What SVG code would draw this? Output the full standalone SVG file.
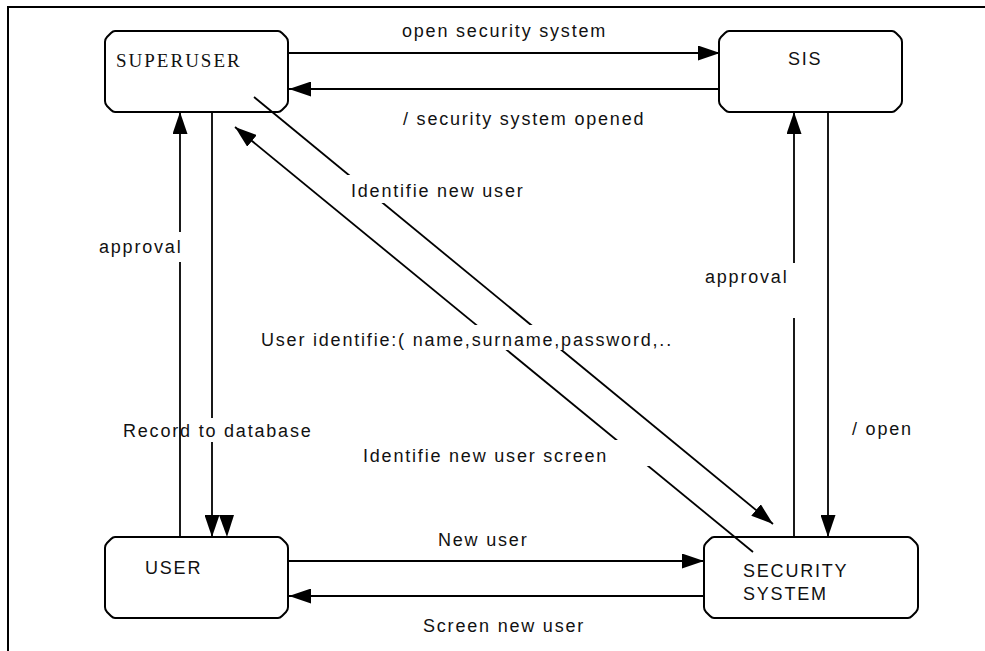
<svg xmlns="http://www.w3.org/2000/svg" width="985" height="651" viewBox="0 0 985 651">
<defs>
<marker id="ah" markerUnits="userSpaceOnUse" markerWidth="22" markerHeight="15" refX="22" refY="7.5" orient="auto">
<path d="M0,0 L22,7.5 L0,15 Z" fill="#000"/>
</marker>
</defs>
<style>
.box{fill:#fff;stroke:#000;stroke-width:2}
.ln{fill:none;stroke:#000;stroke-width:1.8}
.arr{fill:none;stroke:#000;stroke-width:1.8;marker-end:url(#ah)}
.t{font-family:"Liberation Sans",Arial,sans-serif;font-size:18px;letter-spacing:1.8px;fill:#111}
.ts{font-family:"Liberation Serif","Times New Roman",serif;font-size:19px;letter-spacing:2px;fill:#111}
.mask{fill:#fff}
</style>
<rect width="985" height="651" fill="#fff"/>
<path d="M8,651 L8,7 L985,7" fill="none" stroke="#000" stroke-width="2"/>

<g id="superuser">
<path class="box" d="M115,31 L278,31 Q280,31 282,33 L286,37 Q288,39 288,42 L288,101 Q288,104 286,106 L282,110 Q280,112 278,112 L115,112 Q113,112 111,110 L107,106 Q105,104 105,101 L105,42 Q105,39 107,37 L111,33 Q113,31 115,31 Z"/>
<text class="ts" x="116" y="67">SUPERUSER</text>
</g>
<g id="sis">
<path class="box" d="M729,31 L892,31 Q894,31 896,33 L900,37 Q902,39 902,42 L902,101 Q902,104 900,106 L896,110 Q894,112 892,112 L729,112 Q727,112 725,110 L721,106 Q719,104 719,101 L719,42 Q719,39 721,37 L725,33 Q727,31 729,31 Z"/>
<text class="t" x="788" y="65" letter-spacing="2.5">SIS</text>
</g>
<g id="user">
<path class="box" d="M115,537 L278,537 Q280,537 282,539 L286,543 Q288,545 288,548 L288,607 Q288,610 286,612 L282,616 Q280,618 278,618 L115,618 Q113,618 111,616 L107,612 Q105,610 105,607 L105,548 Q105,545 107,543 L111,539 Q113,537 115,537 Z"/>
<text class="t" x="145" y="574">USER</text>
</g>
<g id="security-system">
<path class="box" d="M714,537 L908,537 Q910,537 912,539 L916,543 Q918,545 918,548 L918,607 Q918,610 916,612 L912,616 Q910,618 908,618 L714,618 Q712,618 710,616 L706,612 Q704,610 704,607 L704,548 Q704,545 706,543 L710,539 Q712,537 714,537 Z"/>
<text class="t" x="743" y="577">SECURITY</text>
<text class="t" x="743" y="600">SYSTEM</text>
</g>

<g id="connectors">
<line class="arr" x1="288" y1="53" x2="720" y2="53"/>
<line class="arr" x1="719" y1="89" x2="289" y2="89"/>
<line class="arr" x1="212" y1="112" x2="212" y2="537"/>
<path d="M219,515 L234,515 L227,537 Z" fill="#000"/>
<line class="arr" x1="180" y1="537" x2="180" y2="112"/>
<line class="arr" x1="828" y1="112" x2="828" y2="537"/>
<line class="arr" x1="794" y1="537" x2="794" y2="112"/>
<line class="arr" x1="288" y1="561" x2="704" y2="561"/>
<line class="arr" x1="704" y1="596" x2="289" y2="596"/>
<line class="arr" x1="254" y1="97" x2="773" y2="524"/>
<line class="arr" x1="753" y1="552" x2="235" y2="127"/>
</g>

<g id="labels">
<text class="t" x="402" y="37">open security system</text>
<text class="t" x="403" y="125">/ security system opened</text>
<rect class="mask" x="346" y="175" width="182" height="28"/>
<text class="t" x="351" y="197">Identifie new user</text>
<rect class="mask" x="97" y="232" width="88" height="30"/>
<text class="t" x="99" y="253">approval</text>
<rect class="mask" x="702" y="263" width="96" height="55"/>
<text class="t" x="705" y="283">approval</text>
<rect class="mask" x="258" y="325" width="445" height="25"/>
<text class="t" x="261" y="346">User identifie:( name,surname,password,..</text>
<rect class="mask" x="184" y="418" width="136" height="24"/>
<text class="t" x="123" y="437">Record to database</text>
<text class="t" x="852" y="435">/ open</text>
<rect class="mask" x="358" y="440" width="292" height="26"/>
<text class="t" x="363" y="462">Identifie new user screen</text>
<text class="t" x="438" y="546">New user</text>
<text class="t" x="423" y="632">Screen new user</text>
</g>
</svg>
